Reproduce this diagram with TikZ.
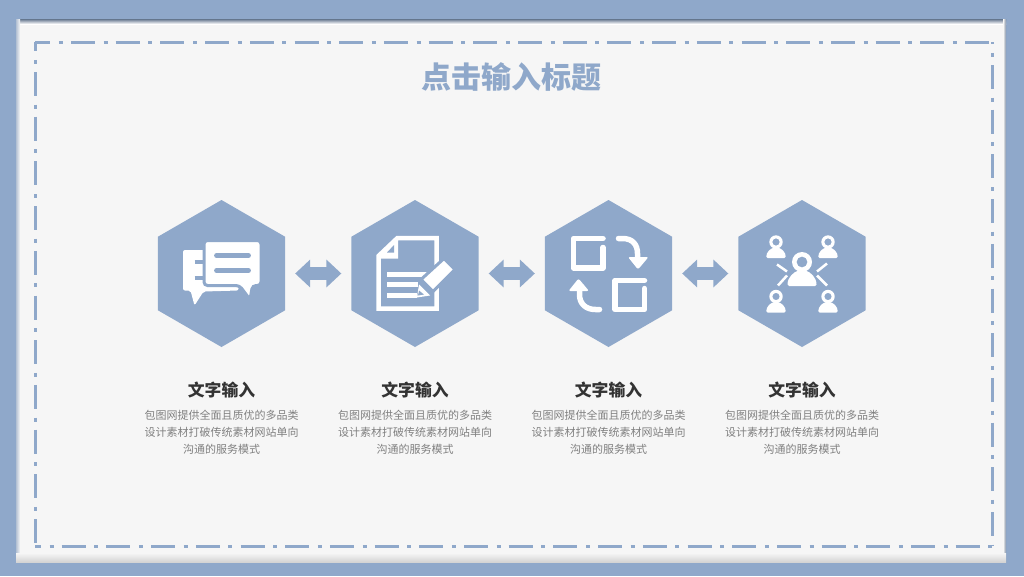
\documentclass[tikz,border=0pt]{standalone}
\usepackage{fontspec}
\setmainfont{Noto Sans CJK SC}
\usepackage{xcolor}
\usetikzlibrary{arrows.meta,shapes.geometric,calc}
\definecolor{slateblue}{HTML}{8FA8CA}
\definecolor{panelgray}{HTML}{F6F6F6}

\begin{document}
\begin{tikzpicture}[x=1pt,y=-1pt]
	\tikzstyle{hexnode}=[regular polygon,regular polygon sides=6,shape border rotate=90,minimum size=147pt,inner sep=0pt,outer sep=0pt,fill=slateblue]
	\tikzstyle{linkarrow}=[slateblue,line width=13pt,shorten >=10pt,shorten <=10pt,{Triangle[width=27pt,length=15pt]}-{Triangle[width=27pt,length=15pt]}]
	\tikzstyle{titletext}=[text=slateblue,font=\fontsize{30}{32}\bfseries\selectfont]
	\tikzstyle{headtext}=[text=black!80,font=\fontsize{16.8}{18}\bfseries\selectfont]
	\tikzstyle{bodytext}=[text=black!50,align=center,font=\fontsize{11}{17}\selectfont]
	\tikzstyle{dashframe}=[slateblue,line width=3pt,dash pattern=on 24pt off 8.6pt on 4pt off 8.1pt]
	\tikzstyle{iconline}=[white,line width=5.5pt,line cap=round,line join=round]
	\tikzstyle{bluebar}=[slateblue,line width=5pt,line cap=round]
	\tikzset{person/.pic={
		\fill[white,even odd rule] (0,0) circle (10) (0,0) circle (5.5);
		\fill[white,rounded corners=1.5pt] (-14.5,24) .. controls (-14.5,15) and (-8,10) .. (-3,8.5) -- (3,8.5) .. controls (8,10) and (14.5,15) .. (14.5,24) -- cycle;
	}}
	\useasboundingbox (0,0) rectangle (1024,576);

	% page and panel
	\fill[slateblue] (0,0) rectangle (1024,576);
	\fill[panelgray] (16,19) rectangle (1006,562);
	\shade[top color=black!30!slateblue,bottom color=white] (16,19) rectangle (1006,24);
	\shade[left color=black!10!slateblue!60!white,right color=panelgray] (16,19) rectangle (20,562);
	\shade[left color=panelgray,right color=black!30!slateblue!80!white] (1003,19) rectangle (1006,562);
	\shade[top color=panelgray,bottom color=black!14!panelgray] (16,553) rectangle (1006,562);

	% dash dot frame
	\coordinate (FA) at (35,42);
	\coordinate (FB) at (992,42);
	\coordinate (FC) at (992,546);
	\coordinate (FD) at (35,546);
	\draw[dashframe,dash phase=8.7pt] (FA) -- (FB);
	\draw[dashframe,dash phase=21.7pt] (FB) -- (FC);
	\draw[dashframe,dash phase=18pt] (FD) -- (FC);
	\draw[dashframe,dash phase=14.7pt] (FA) -- (FD);

	\node[titletext] (title) at (511,77) {点击输入标题};

	\foreach \n/\x in {1/221.5,2/415,3/608.5,4/802}{
		\node[hexnode] (H\n) at (\x,273.5) {};
		\node[headtext] (T\n) at (\x,389.5) {文字输入};
		\node[bodytext] (B\n) at (\x,432) {包图网提供全面且质优的多品类\\设计素材打破传统素材网站单向\\沟通的服务模式};
	}
	\draw[linkarrow] (H1) -- (H2);
	\draw[linkarrow] (H2) -- (H3);
	\draw[linkarrow] (H3) -- (H4);

	% chat icon
	\begin{scope}[shift={(H1.center)}]
		\fill[white,rounded corners=2pt] (-38.5,-23.5) -- (-16,-23.5) -- (-16,13) -- (17,13) -- (17,17) -- (-18,18) -- (-27,32) -- (-31,17) -- (-38.5,17) -- cycle;
		\draw[slateblue,line width=3pt,fill=white,rounded corners=3.5pt] (-17.5,-33) -- (39.5,-33) -- (39.5,12) -- (31,12) -- (28.5,26) -- (18,12) -- (-17.5,12) -- cycle;
		\draw[bluebar,line width=4.8pt] (-5,-18) -- (27,-18);
		\draw[bluebar,line width=4.8pt] (-5,-3) -- (27,-3);
		\draw[slateblue,line width=4pt] (-27,-12) -- (-17,-12);
		\draw[slateblue,line width=4pt] (-27,4) -- (-17,4);
	\end{scope}

	% page and pencil icon
	\begin{scope}[shift={(H2.center)}]
		\draw[white,line width=4.5pt,line join=miter] (-36.5,-17.5) -- (-17.5,-35.5) -- (21.5,-35.5) -- (21.5,35) -- (-36.5,35) -- cycle;
		\fill[white] (-38,-18) -- (-19,-37) -- (-17,-37) -- (-17,-15) -- (-38,-15) -- cycle;
		\fill[slateblue] (-28,-21) -- (-21,-28.5) -- (-21,-21) -- cycle;
		\draw[white,line width=5pt] (-28,1) -- (12,1);
		\draw[white,line width=5pt] (-28,11) -- (3,11);
		\draw[white,line width=5pt] (-28,22) -- (2,22);
		\draw[slateblue,line width=3pt,fill=white] (6,6) -- (29,-15) -- (40,-4) -- (18,18) -- cycle;
		\fill[white] (4,11) -- (15,22) -- (2,24) -- cycle;
		\fill[slateblue] (4,17) -- (9,21) -- (3,22) -- cycle;
	\end{scope}

	% exchange icon
	\begin{scope}[shift={(H3.center)}]
		\draw[iconline] (-5.5,-35) -- (-35,-35) -- (-35,-5.5) -- (-5.5,-5.5) -- (-5.5,-26);
		\draw[iconline] (36,7) -- (6.5,7) -- (6.5,36) -- (36,36) -- (36,15);
		\draw[iconline] (10,-35) -- (14,-35) .. controls (24,-35) and (29,-29) .. (29,-20) -- (29,-12);
		\fill[white,rounded corners=2pt] (19.5,-16.5) -- (40,-16.5) -- (29.5,-4) -- cycle;
		\draw[iconline] (-9,36) -- (-13,36) .. controls (-23,36) and (-29,30) .. (-29,21) -- (-29,14);
		\fill[white,rounded corners=2pt] (-40,17.5) -- (-19.5,17.5) -- (-30,5) -- cycle;
	\end{scope}

	% people icon
	\begin{scope}[shift={(H4.center)}]
		\pic at (0,-11.5) {person};
		\foreach \px in {-26,26}{
			\pic[scale=.67] at (\px,-31.5) {person};
			\pic[scale=.67] at (\px,23) {person};
		}
		\draw[white,line width=2.5pt] (-25,-9) -- (-15,-2);
		\draw[white,line width=2.5pt] (25,-10) -- (15,-2);
		\draw[white,line width=2.5pt] (-15,2) -- (-24,12);
		\draw[white,line width=2.5pt] (15,2) -- (25,12);
	\end{scope}
\end{tikzpicture}
\end{document}
